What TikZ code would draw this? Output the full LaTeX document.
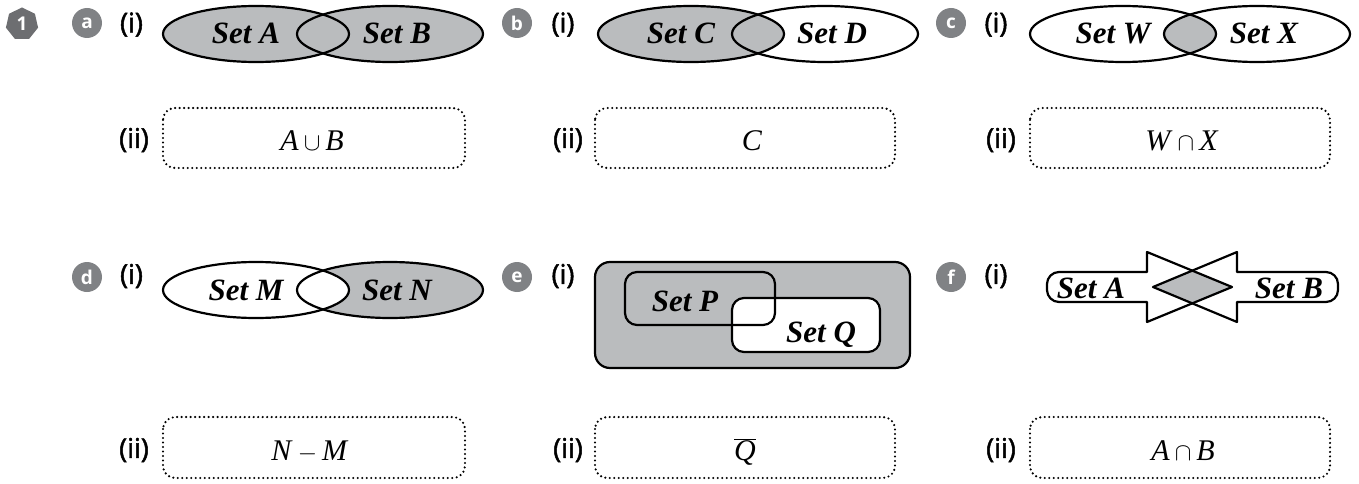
\documentclass[tikz,border=0pt]{standalone}
\usepackage{fontspec}
\setmainfont{Liberation Serif}
\newfontfamily\labelsans[FakeBold=1.8]{Open Sans}
\newfontfamily\badgesans{Open Sans}
\usetikzlibrary{shapes.geometric}

\definecolor{setgray}{RGB}{186,188,190}
\definecolor{badgegray}{RGB}{128,130,133}
\definecolor{badgedark}{RGB}{109,110,113}

\tikzset{
  setlabel/.style={font=\fontsize{31}{34}\selectfont\bfseries\itshape, inner sep=0pt, anchor=base},
  partlabel/.style={font=\labelsans\fontsize{27}{30}\selectfont, inner sep=0pt},
  badge/.style={circle, fill=badgegray, text=white, minimum size=30pt, inner sep=0pt,
    font=\badgesans\bfseries\fontsize{19}{20}\selectfont},
  answerbox/.style={line width=2.4pt, dash pattern=on 0pt off 4.5pt, line cap=round, rounded corners=12pt},
  answer/.style={font=\fontsize{30}{33}\selectfont, inner sep=0pt, anchor=base},
  outline/.style={line width=2.2pt, line join=round},
  setell/.style={x radius=93, y radius=28},
}

\begin{document}
\begin{tikzpicture}[x=1pt, y=-1pt]
\useasboundingbox (0,0) rectangle (1359,484);

% question number
\node[regular polygon, regular polygon sides=7, fill=badgedark, minimum size=33pt, inner sep=0pt,
      text=white, font=\badgesans\bfseries\fontsize{19}{20}\selectfont] (q1) at (22,24) {1};

% part badges and (i)/(ii) markers
\node[badge] (ba) at (87,23) {a};
\node[badge] (bb) at (517,23) {b};
\node[badge] (bc) at (951,23) {c};
\node[badge] (bd) at (87,277) {d};
\node[badge] (be) at (517,277) {e};
\node[badge] (bf) at (951,277) {f};

\node[partlabel] (ia) at (131.5,24.5) {(i)};
\node[partlabel] (ib) at (563,24.5) {(i)};
\node[partlabel] (ic) at (996,24.5) {(i)};
\node[partlabel] (id) at (131.5,276) {(i)};
\node[partlabel] (ie) at (563,276) {(i)};
\node[partlabel] (if) at (996,276) {(i)};

\node[partlabel] (iia) at (134,140) {(ii)};
\node[partlabel] (iib) at (568,140) {(ii)};
\node[partlabel] (iic) at (1001,140) {(ii)};
\node[partlabel] (iid) at (134,450) {(ii)};
\node[partlabel] (iie) at (568,450) {(ii)};
\node[partlabel] (iif) at (1001,450) {(ii)};

% (a) A union B
\fill[setgray] (256,34) ellipse [setell];
\fill[setgray] (390,34) ellipse [setell];
\draw[outline] (256,34) ellipse [setell];
\draw[outline] (390,34) ellipse [setell];
\node[setlabel] (sa) at (246,44) {Set A};
\node[setlabel] (sb) at (397,44) {Set B};

% (b) C
\fill[setgray] (691,34) ellipse [setell];
\draw[outline] (691,34) ellipse [setell];
\draw[outline] (825,34) ellipse [setell];
\node[setlabel] (sc) at (681,44) {Set C};
\node[setlabel] (sd) at (832,44) {Set D};

% (c) W intersect X
\begin{scope}
  \clip (1123,34) ellipse [setell];
  \fill[setgray] (1257,34) ellipse [setell];
\end{scope}
\draw[outline] (1123,34) ellipse [setell];
\draw[outline] (1257,34) ellipse [setell];
\node[setlabel] (sw) at (1113,44) {Set W};
\node[setlabel] (sx) at (1264,44) {Set X};

% (d) N minus M
\fill[setgray] (390,290) ellipse [setell];
\fill[white] (256,290) ellipse [setell];
\draw[outline] (256,290) ellipse [setell];
\draw[outline] (390,290) ellipse [setell];
\node[setlabel] (sm) at (246,300) {Set M};
\node[setlabel] (sn) at (397,300) {Set N};

% (e) complement of Q
\draw[outline, fill=setgray, rounded corners=15pt] (595,262) rectangle (910,368);
\draw[outline, fill=white, rounded corners=12pt] (732,298) rectangle (880,352);
\draw[outline, rounded corners=12pt] (625,272) rectangle (775,325);
\node[setlabel] (sp) at (685,311) {Set P};
\node[setlabel] (sq) at (821,342) {Set Q};

% (f) two arrows meeting; overlap shaded
\def\leftarrowpath{(1147,272) -- (1147,252) -- (1232,287) -- (1147,322) -- (1147,302) -- (1059,302)
  arc[start angle=90, end angle=180, radius=12] -- (1047,284)
  arc[start angle=180, end angle=270, radius=12] -- cycle}
\def\rightarrowpath{(1237,272) -- (1237,252) -- (1153,287) -- (1237,322) -- (1237,302) -- (1326,302)
  arc[start angle=90, end angle=0, radius=12] -- (1338,284)
  arc[start angle=0, end angle=-90, radius=12] -- cycle}
\fill[white] \leftarrowpath;
\fill[white] \rightarrowpath;
\fill[setgray] (1153,287) -- (1192,270.5) -- (1232,287) -- (1192,303.5) -- cycle;
\draw[outline] \leftarrowpath;
\draw[outline] \rightarrowpath;
\node[setlabel] (sfa) at (1091,298) {Set A};
\node[setlabel] (sfb) at (1289,298) {Set B};

% answer boxes
\draw[answerbox] (163,108) rectangle (465,168);
\draw[answerbox] (595,108) rectangle (895,168);
\draw[answerbox] (1030,108) rectangle (1330,168);
\draw[answerbox] (163,417) rectangle (465,478);
\draw[answerbox] (595,417) rectangle (895,478);
\draw[answerbox] (1030,417) rectangle (1330,478);

\node[answer] (ansa) at (312,150) {\textit{A}\,$\cup$\,\textit{B}};
\node[answer] (ansb) at (752,150) {\textit{C}};
\node[answer] (ansc) at (1182,150) {\textit{W}\,$\cap$\,\textit{X}};
\node[answer] (ansd) at (310,460) {\textit{N}\,$-$\,\textit{M}};
\node[answer] (anse) at (745,460) {$\overline{\mbox{\textit{Q}}}$};
\node[answer] (ansf) at (1183,460) {\textit{A}\,$\cap$\,\textit{B}};
\end{tikzpicture}
\end{document}
